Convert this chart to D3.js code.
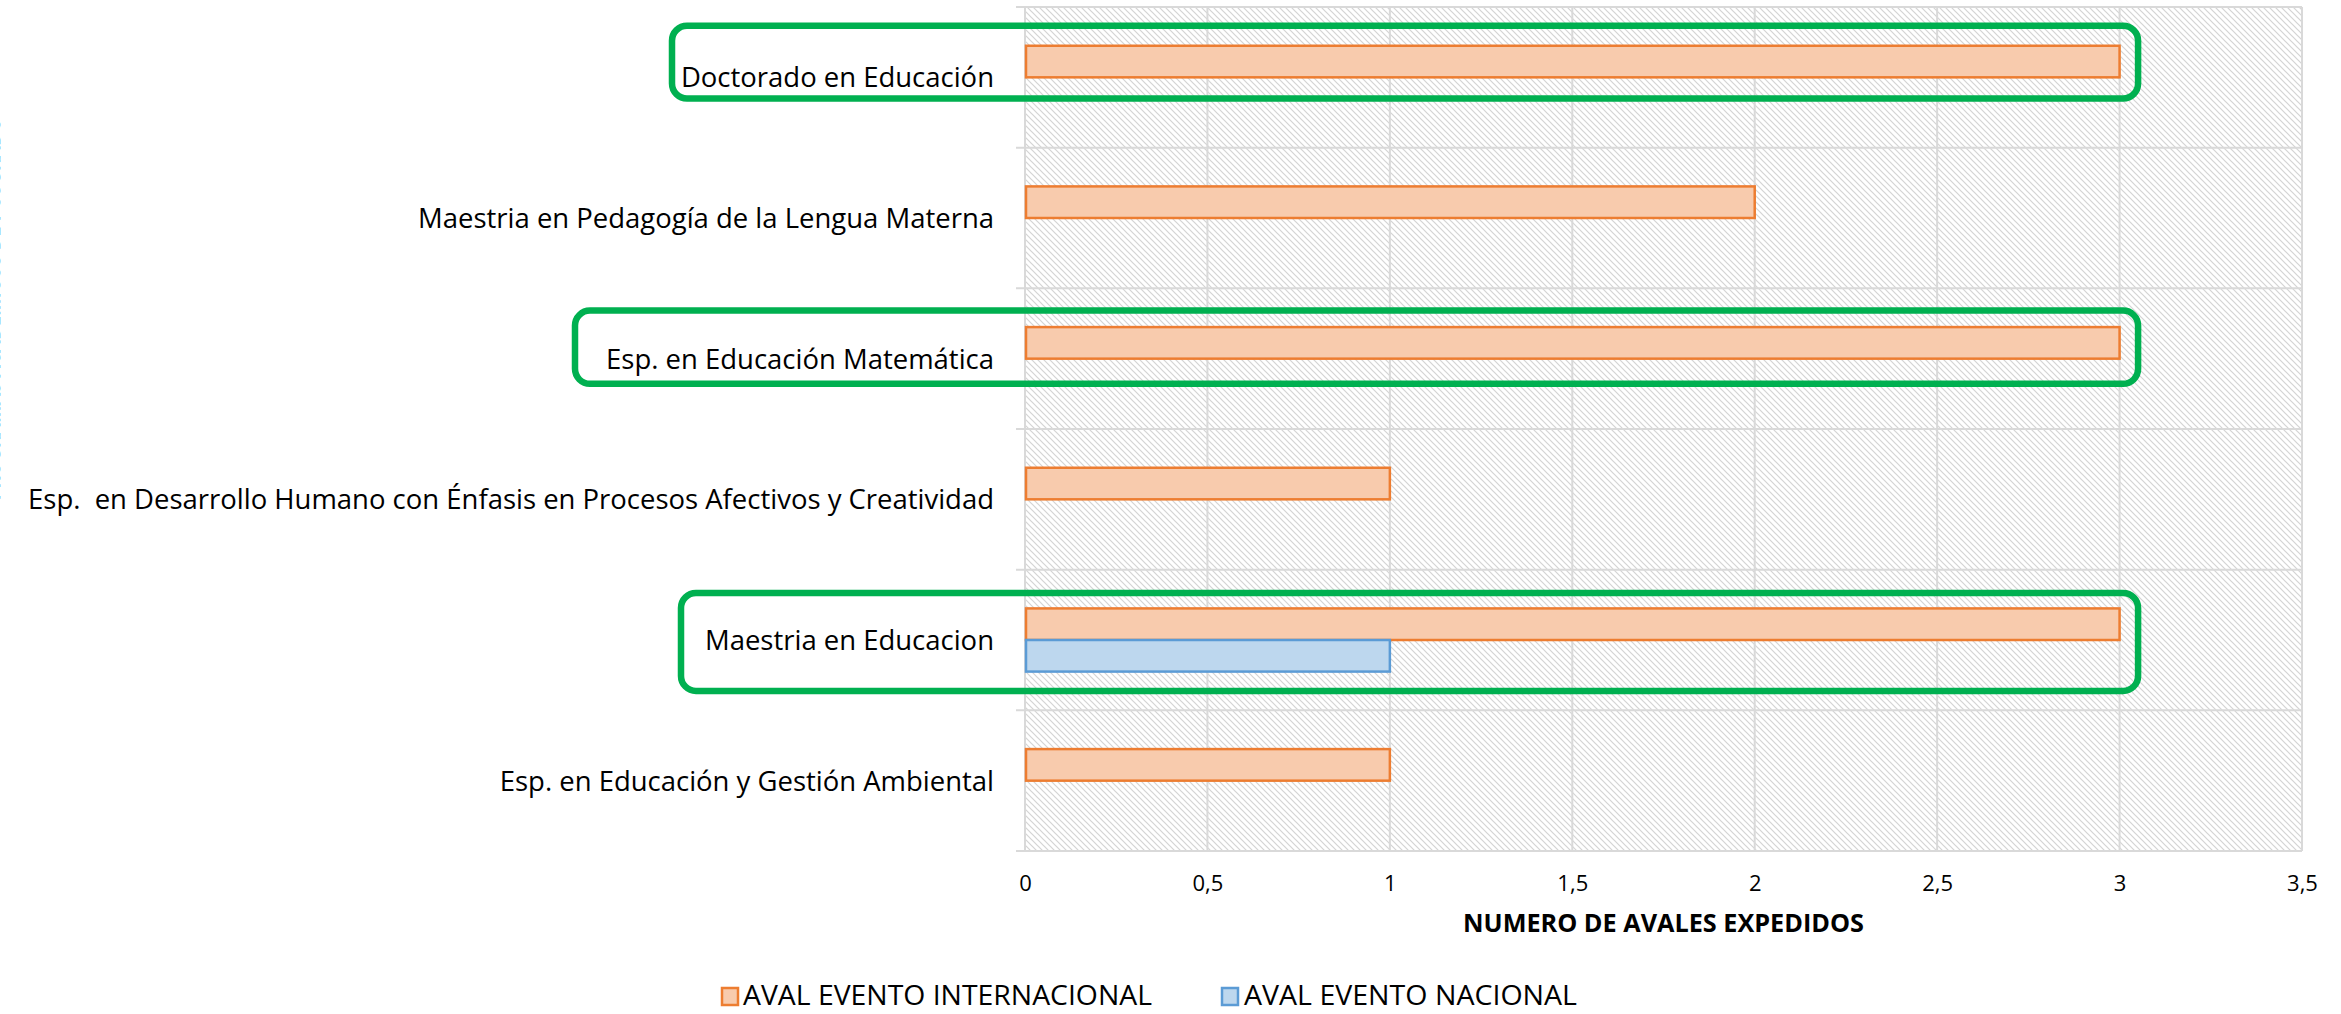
<!DOCTYPE html>
<html>
<head>
<meta charset="utf-8">
<script src="https://cdn.jsdelivr.net/npm/d3@7"></script>
<style>
  html, body { margin: 0; padding: 0; background: #ffffff; overflow: hidden; }
  svg text { font-family: "Open Sans", "Noto Sans", sans-serif; fill: #000; white-space: pre; }
</style>
</head>
<body>
<svg id="chart" width="2341" height="1014"></svg>
<script>
// ---------------- data ----------------
const categories = [
  "Doctorado en Educación",
  "Maestria en Pedagogía de la Lengua Materna",
  "Esp. en Educación Matemática",
  "Esp.  en Desarrollo Humano con Énfasis en Procesos Afectivos y Creatividad",
  "Maestria en Educacion",
  "Esp. en Educación y Gestión Ambiental"
];
const seriesNames = ["AVAL EVENTO INTERNACIONAL", "AVAL EVENTO NACIONAL"];
const avalInternacional = [3, 2, 3, 1, 3, 1];
const avalNacional      = [0, 0, 0, 0, 1, 0];
const xTicks = [0, 0.5, 1, 1.5, 2, 2.5, 3, 3.5];
const xTitle = "NUMERO DE AVALES EXPEDIDOS";
const yTitle = "PROGRAMAS ACADÉMICOS DE POSGRADO";
const highlighted = ["Doctorado en Educación", "Esp. en Educación Matemática", "Maestria en Educacion"];

// ---------------- layout / style ----------------
const plot = { left: 1025, right: 2302, top: 7, bottom: 851 };
const colors = {
  fill: ["#F8CBAD", "#BDD7EE"],
  stroke: ["#ED7D31", "#5B9BD5"],
  grid: "#d9d9d9",
  hatch: "#d4d4d4",
  green: "#00B050"
};
// highlight box geometry relative to label end / band top (pixels)
const boxStyle = [
  { leftOff: 322, topOff: 18.7, botOff: 91.5 },
  { leftOff: 419, topOff: 22.2, botOff: 95.5 },
  { leftOff: 313, topOff: 23.3, botOff: 121.3 }
];
const legendLayout = [
  { sw: 722, tx: 743, tw: 409 },
  { sw: 1222, tx: 1244, tw: 333 }
];

const svg = d3.select("#chart");
const defs = svg.append("defs");
const pat = defs.append("pattern").attr("id", "hatch")
  .attr("patternUnits", "userSpaceOnUse").attr("width", 6).attr("height", 6);
pat.append("rect").attr("width", 6).attr("height", 6).attr("fill", "#fff");
pat.append("path").attr("d", "M-1,-1 L7,7 M-1,5 L1,7 M5,-1 L7,1")
  .attr("stroke", colors.hatch).attr("stroke-width", 1.2);

const x = d3.scaleLinear().domain([0, 3.5]).range([plot.left, plot.right]);
const y = d3.scaleBand().domain(categories).range([plot.top, plot.bottom]).padding(0);
const sub = d3.scaleBand().domain(seriesNames).range([0, y.bandwidth()])
  .paddingInner(0).paddingOuter(1.227);

const rows = categories.map((c, i) => ({ cat: c, vals: [avalInternacional[i], avalNacional[i]] }));

// plot background (hatch)
svg.append("rect").attr("x", plot.left).attr("y", plot.top)
  .attr("width", plot.right - plot.left).attr("height", plot.bottom - plot.top)
  .attr("fill", "url(#hatch)");

// vertical gridlines
svg.append("g").selectAll("line").data(xTicks).join("line")
  .attr("x1", d => x(d)).attr("x2", d => x(d))
  .attr("y1", plot.top).attr("y2", plot.bottom)
  .attr("stroke", colors.grid).attr("stroke-width", 2);

// horizontal category boundaries (with outward ticks)
const bounds = categories.map(c => y(c)).concat([y(categories[categories.length - 1]) + y.step()]);
svg.append("g").selectAll("line").data(bounds).join("line")
  .attr("x1", plot.left - 9).attr("x2", plot.right)
  .attr("y1", d => d).attr("y2", d => d)
  .attr("stroke", colors.grid).attr("stroke-width", 2);

// bars
const barG = svg.append("g");
rows.forEach(r => {
  r.vals.forEach((v, si) => {
    if (!v) return;
    barG.append("rect")
      .attr("x", x(0) + 1)
      .attr("y", y(r.cat) + sub(seriesNames[si]))
      .attr("width", x(v) - x(0) - 1)
      .attr("height", sub.bandwidth())
      .attr("fill", colors.fill[si])
      .attr("stroke", colors.stroke[si])
      .attr("stroke-width", 2.5);
  });
});

// x axis labels
const loc = d3.formatLocale({ decimal: ",", thousands: ".", grouping: [3], currency: ["", ""] });
const fmt = loc.format("~g");
const xAxis = d3.axisBottom(x).tickValues(xTicks).tickFormat(fmt).tickSize(0).tickPadding(24);
const gx = svg.append("g").attr("transform", `translate(0,${plot.bottom})`).call(xAxis);
gx.select(".domain").remove();
gx.selectAll("text").attr("font-size", 22).attr("font-family", "Open Sans").attr("fill", "#000");

// helper: fit font size to target width
function fitSize(text, targetW, weight) {
  const t = svg.append("text").attr("font-size", 100).attr("font-weight", weight || 400).text(text);
  const w = t.node().getComputedTextLength();
  t.remove();
  return 100 * targetW / w;
}

// category labels
const catSize = fitSize(categories[3], 966);
const labelEnd = plot.left - 31;
svg.append("g").selectAll("text").data(categories).join("text")
  .attr("x", labelEnd)
  .attr("y", d => y(d) + y.bandwidth() / 2 + catSize * 0.36)
  .attr("text-anchor", "end")
  .attr("font-size", catSize)
  .text(d => d);

// x title
const xtSize = fitSize(xTitle, 401, 700);
svg.append("text").attr("x", (plot.left + plot.right) / 2).attr("y", 931.5)
  .attr("text-anchor", "middle").attr("font-weight", 700).attr("font-size", xtSize)
  .text(xTitle);

// y title (mostly outside the frame on the left, as in the original)
svg.append("text").attr("transform", `translate(0,309) rotate(-90)`)
  .attr("text-anchor", "middle").attr("font-weight", 700).attr("font-size", 24)
  .attr("textLength", 383).attr("lengthAdjust", "spacingAndGlyphs")
  .attr("fill", "#000")
  .text(yTitle);

// legend
const leg = svg.append("g");
seriesNames.forEach((s, i) => {
  const L = legendLayout[i];
  leg.append("rect").attr("x", L.sw).attr("y", 988).attr("width", 16).attr("height", 17)
    .attr("fill", colors.fill[i]).attr("stroke", colors.stroke[i]).attr("stroke-width", 2.5);
  leg.append("text").attr("x", L.tx).attr("y", 1005)
    .attr("font-size", 27)
    .attr("textLength", L.tw).attr("lengthAdjust", "spacingAndGlyphs")
    .text(s);
});

// highlight boxes
const boxG = svg.append("g");
highlighted.forEach((c, i) => {
  const st = boxStyle[i];
  const x0 = labelEnd - st.leftOff;
  const x1 = x(3) + 18.5;
  const y0 = y(c) + st.topOff;
  const y1 = y(c) + st.botOff;
  boxG.append("rect").attr("x", x0).attr("y", y0)
    .attr("width", x1 - x0).attr("height", y1 - y0)
    .attr("rx", 15).attr("ry", 15)
    .attr("fill", "none").attr("stroke", colors.green).attr("stroke-width", 6.5);
});
</script>
</body>
</html>
